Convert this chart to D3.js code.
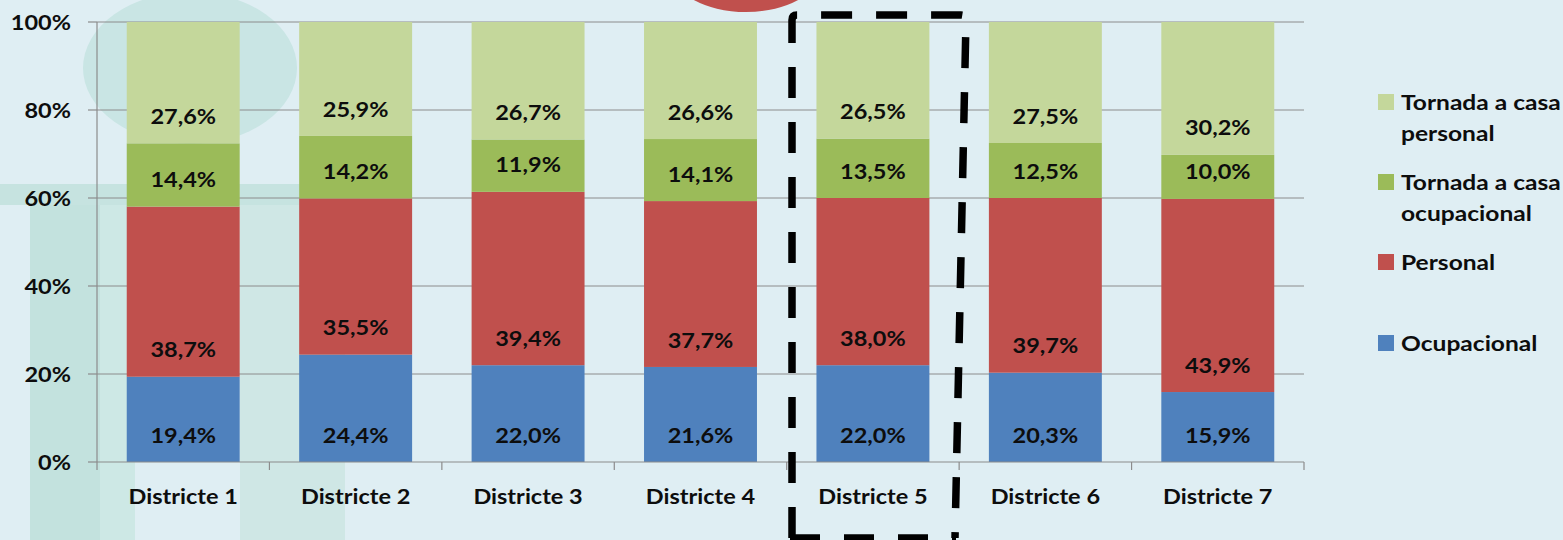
<!DOCTYPE html>
<html>
<head>
<meta charset="utf-8">
<script src="https://cdn.jsdelivr.net/npm/d3@7"></script>
<style>
  body { margin: 0; background: #dfeef3; }
  svg { display: block; }
  text { font-family: Lato, "Open Sans", sans-serif; font-weight: bold; fill: #0d0d0d; }
</style>
</head>
<body>
<div id="chart-container"></div>
<script>
var districts = ["Districte 1", "Districte 2", "Districte 3", "Districte 4", "Districte 5", "Districte 6", "Districte 7"];
var ocupacional = [19.4, 24.4, 22.0, 21.6, 22.0, 20.3, 15.9];
var personal = [38.7, 35.5, 39.4, 37.7, 38.0, 39.7, 43.9];
var tornadaOcup = [14.4, 14.2, 11.9, 14.1, 13.5, 12.5, 10.0];
var tornadaPers = [27.6, 25.9, 26.7, 26.6, 26.5, 27.5, 30.2];
var yTicks = [0, 0.2, 0.4, 0.6, 0.8, 1];

var keys = ["ocup", "pers", "tocup", "tpers"];
var colors = { ocup: "#4f81bd", pers: "#c0504d", tocup: "#9bbb59", tpers: "#c4d79b" };
var legendItems = [
    { key: "tpers", lines: ["Tornada a casa", "personal"], y: 102 },
    { key: "tocup", lines: ["Tornada a casa", "ocupacional"], y: 182 },
    { key: "pers", lines: ["Personal"], y: 262 },
    { key: "ocup", lines: ["Ocupacional"], y: 343 }
];

var svgWidth = 1563;
var svgHeight = 540;
var plotLeft = 97, plotRight = 1304, plotTop = 22, plotBottom = 462;

var table = districts.map(function(d, i) {
    return { district: d, ocup: ocupacional[i], pers: personal[i], tocup: tornadaOcup[i], tpers: tornadaPers[i] };
});

var svg = d3.select("#chart-container").append("svg")
    .attr("width", svgWidth)
    .attr("height", svgHeight);

// background decoration of the slide
var bg = svg.append("g");
bg.append("rect").attr("width", svgWidth).attr("height", svgHeight).attr("fill", "#dfeef3");
bg.append("ellipse").attr("cx", 190).attr("cy", 68).attr("rx", 107).attr("ry", 76).attr("fill", "#c9e5e4");
bg.append("rect").attr("x", 0).attr("y", 184).attr("width", 360).attr("height", 21).attr("fill", "#c6e3e0");
bg.append("rect").attr("x", 30).attr("y", 205).attr("width", 70).attr("height", 335).attr("fill", "#c3e2de");
bg.append("rect").attr("x", 100).attr("y", 205).attr("width", 35).attr("height", 335).attr("fill", "#cde8e5");
bg.append("rect").attr("x", 240).attr("y", 205).attr("width", 105).attr("height", 335).attr("fill", "#cfe7e5");
bg.append("ellipse").attr("cx", 746).attr("cy", -32).attr("rx", 76).attr("ry", 44).attr("fill", "#c0504d");

var xScale = d3.scaleBand().domain(districts).range([plotLeft, plotRight]).paddingInner(0.345).paddingOuter(0.1725);
var yScale = d3.scaleLinear().domain([0, 1]).range([plotBottom, plotTop]);

function addText(g, x, y, str, anchor, sx) {
    return g.append("text")
        .attr("transform", "translate(" + x + "," + y + ") scale(" + (sx || 1.12) + ",1)")
        .attr("text-anchor", anchor)
        .attr("dy", "0.36em")
        .style("font-size", "21px")
        .text(str);
}

// gridlines
svg.append("g").selectAll("line")
    .data(yTicks.slice(1))
    .enter().append("line")
    .attr("x1", plotLeft).attr("x2", plotRight)
    .attr("y1", d => yScale(d)).attr("y2", d => yScale(d))
    .attr("stroke", "#8c8c8c").attr("stroke-width", 1);

var stack = d3.stack().keys(keys).offset(d3.stackOffsetExpand);
var series = stack(table);

var layers = svg.append("g").selectAll("g")
    .data(series)
    .enter().append("g")
    .attr("fill", d => colors[d.key]);

layers.selectAll("rect")
    .data(d => d)
    .enter().append("rect")
    .attr("x", d => xScale(d.data.district))
    .attr("width", xScale.bandwidth())
    .attr("y", d => yScale(d[1]))
    .attr("height", d => yScale(d[0]) - yScale(d[1]));

var labels = svg.append("g");
series.forEach(function(s) {
    s.forEach(function(d) {
        var v = d.data[s.key];
        addText(labels, xScale(d.data.district) + xScale.bandwidth() / 2, yScale(d[0]) - 27,
            v.toFixed(1).replace(".", ",") + "%", "middle");
    });
});

// axes
var axes = svg.append("g").attr("stroke", "#8c8c8c").attr("stroke-width", 1.2);
axes.append("line").attr("x1", plotLeft).attr("x2", plotLeft).attr("y1", plotTop).attr("y2", plotBottom);
axes.append("line").attr("x1", plotLeft).attr("x2", plotRight).attr("y1", plotBottom).attr("y2", plotBottom);
axes.selectAll(".yt").data(yTicks).enter().append("line")
    .attr("x1", plotLeft - 9).attr("x2", plotLeft)
    .attr("y1", d => yScale(d)).attr("y2", d => yScale(d));
axes.selectAll(".xt").data(districts.concat(["end"])).enter().append("line")
    .attr("x1", (d, i) => plotLeft + i * xScale.step()).attr("x2", (d, i) => plotLeft + i * xScale.step())
    .attr("y1", plotBottom).attr("y2", plotBottom + 8);

var tickLabels = svg.append("g");
yTicks.forEach(function(t) {
    addText(tickLabels, 71, yScale(t), Math.round(t * 100) + "%", "end");
});
districts.forEach(function(d) {
    addText(tickLabels, xScale(d) + xScale.bandwidth() / 2, 496, d, "middle");
});

// legend
var legend = svg.append("g");
legendItems.forEach(function(item) {
    legend.append("rect")
        .attr("x", 1378).attr("y", item.y - 8)
        .attr("width", 16).attr("height", 16)
        .attr("fill", colors[item.key]);
    item.lines.forEach(function(line, j) {
        addText(legend, 1401, item.y + j * 31, line, "start", 1.17);
    });
});

// hand drawn dashed box around Districte 5
svg.append("path")
    .attr("d", "M792,538 L792,20 Q792,15 797,15 L961,15 Q966,15 966,20 L955,538")
    .attr("fill", "none")
    .attr("stroke", "#000")
    .attr("stroke-width", 7.5)
    .attr("stroke-dasharray", "31,24");
svg.append("line")
    .attr("x1", 790).attr("x2", 956).attr("y1", 538).attr("y2", 538)
    .attr("stroke", "#000").attr("stroke-width", 7.5)
    .attr("stroke-dasharray", "30,24");
</script>
</body>
</html>
